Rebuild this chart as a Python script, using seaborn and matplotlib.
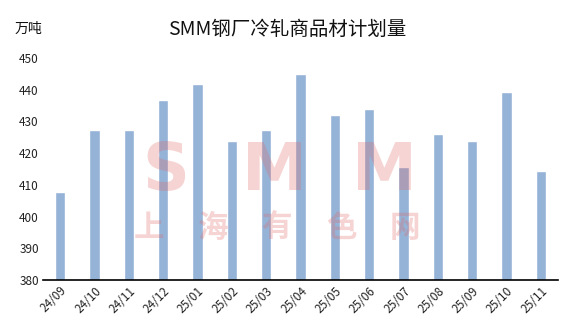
import matplotlib
matplotlib.use("Agg")
import matplotlib.pyplot as plt
import seaborn as sns
import pandas as pd

months = ["24/09", "24/10", "24/11", "24/12", "25/01", "25/02", "25/03", "25/04",
          "25/05", "25/06", "25/07", "25/08", "25/09", "25/10", "25/11"]
values = [407.8, 427.4, 427.4, 436.8, 441.9, 423.9, 427.4, 445.0,
          432.1, 434.0, 415.7, 426.1, 423.9, 439.4, 414.4]
yticks = [380, 390, 400, 410, 420, 430, 440, 450]

sns.set_theme(style="white")
plt.rcParams['font.family'] = ['Noto Sans CJK SC', 'DejaVu Sans']

df = pd.DataFrame({"month": months, "value": values})

fig = plt.figure(figsize=(5.73, 3.33), dpi=100)
ax = fig.add_axes([43/573, 1 - 280/333, (558-43)/573, (280-50)/333])

sns.barplot(data=df, x="month", y="value", color="#95B3D7", saturation=1,
            width=0.3, ax=ax, zorder=2)
ax.set_ylim(380, 452.5)
ax.set_yticks(yticks)
ax.set_yticklabels([str(t) for t in yticks], fontsize=8.5, color="#222222")
ax.set_xlim(-0.5, len(months) - 0.5)
ax.set_xticks(range(len(months)))
ax.set_xticklabels(months, rotation=45, ha="right", rotation_mode="anchor",
                   fontsize=8.5, color="#222222")
ax.set_xlabel("")
ax.set_ylabel("")
for s in ["top", "right", "left"]:
    ax.spines[s].set_visible(False)
ax.spines["bottom"].set_color("black")
ax.spines["bottom"].set_linewidth(1.2)
ax.tick_params(axis="both", length=0, pad=3)

fig.text(287/573, 1 - 29/333, "SMM钢厂冷轧商品材计划量", ha="center", va="center",
         fontsize=14, color="#111111")
fig.text(15/573, 1 - 29/333, "万吨", ha="left", va="center", fontsize=10,
         color="#111111")

# watermark (letters spread out to mimic the stretched logo)
wm_color = "#e06666"
for ch, xc in zip("SMM", [166, 274, 384]):
    fig.text(xc/573, 1 - 190/333, ch, ha="center", va="baseline", fontsize=47,
             fontweight="bold", color=wm_color, alpha=0.28, zorder=10,
             family=["DejaVu Sans"])
for ch, xc in zip("上海有色网", [149, 213, 277, 341, 405]):
    fig.text(xc/573, 1 - 228/333, ch, ha="center", va="center", fontsize=22,
             fontweight="bold", color=wm_color, alpha=0.28, zorder=10)

fig.savefig("out.png", dpi=100)
